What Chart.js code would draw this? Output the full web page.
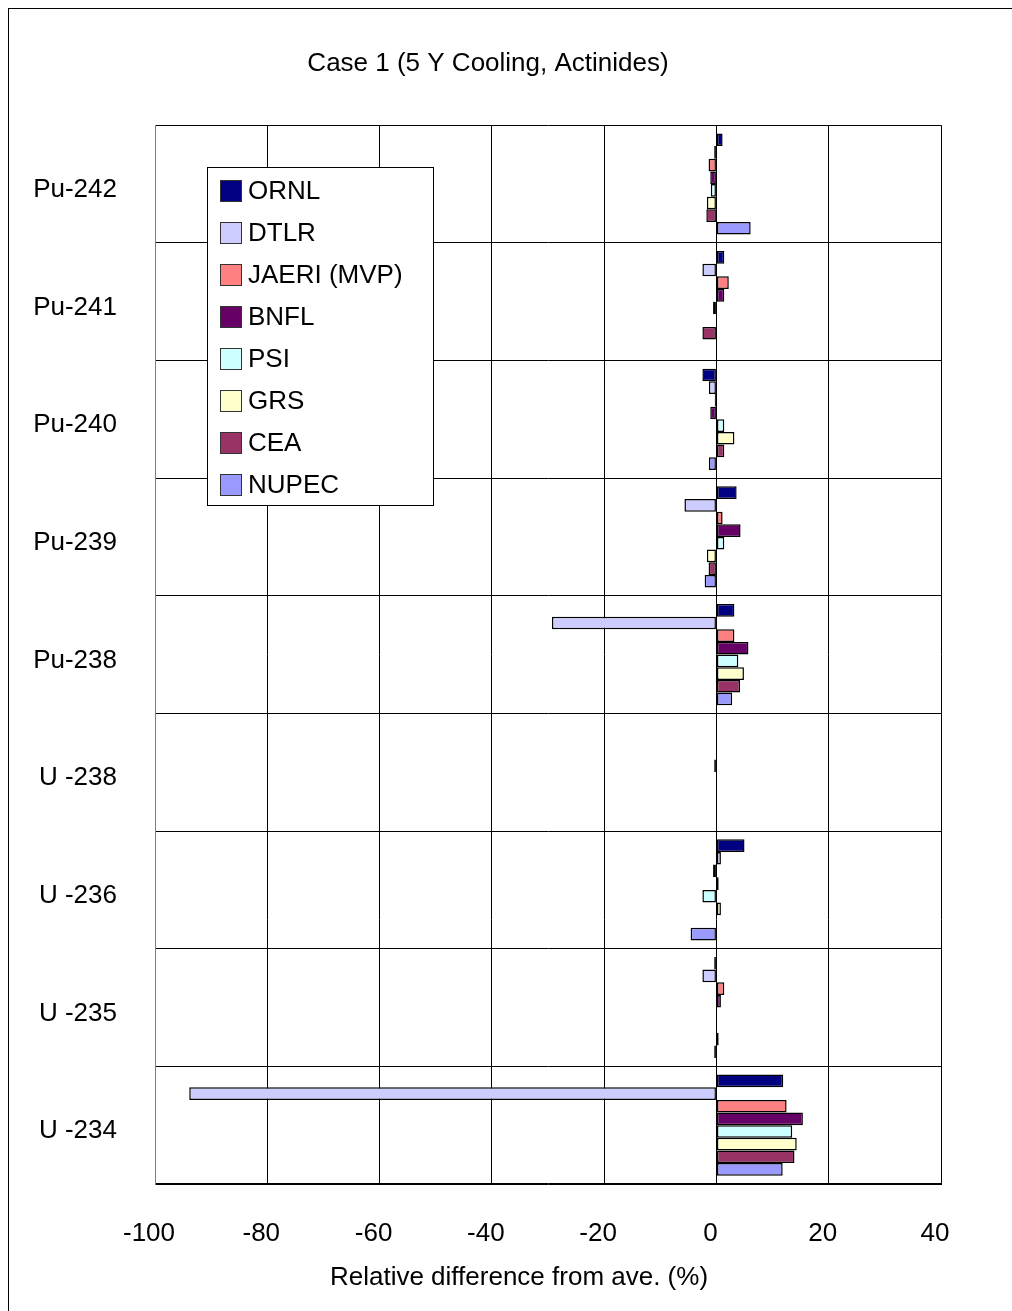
<!DOCTYPE html>
<html>
<head>
<meta charset="utf-8">
<title>Case 1 (5 Y Cooling, Actinides)</title>
<script src="https://cdn.jsdelivr.net/npm/chart.js@4"></script>
<style>
  html, body { margin: 0; padding: 0; background: #fff; }
  canvas { display: block; }
</style>
</head>
<body>
<canvas id="barChart" width="1012" height="1311"></canvas>
<script>
const categories = ['Pu-242', 'Pu-241', 'Pu-240', 'Pu-239', 'Pu-238', 'U -238', 'U -236', 'U -235', 'U -234'];

const ornl  = [1.1, 1.4, -2.5, 3.6, 3.2, 0, 5.0, -0.4, 11.9];
const dtlr  = [-0.4, -2.5, -1.35, -5.7, -29.3, 0, 0.8, -2.5, -93.9];
const jaeri = [-1.4, 2.2, -0.3, 1.1, 3.2, 0, -0.6, 1.4, 12.5];
const bnfl  = [-1.1, 1.4, -1.1, 4.3, 5.7, -0.4, 0.4, 0.8, 15.4];
const psi   = [-1.0, -0.6, 1.4, 1.4, 3.9, 0, -2.5, 0, 13.5];
const grs   = [-1.7, 0, 3.2, -1.7, 4.9, 0, 0.8, 0, 14.3];
const cea   = [-1.8, -2.5, 1.4, -1.4, 4.2, 0, 0, 0.4, 13.9];
const nupec = [6.1, 0, -1.35, -2.1, 2.8, 0, -4.6, -0.4, 11.8];

const seriesNames = ['ORNL', 'DTLR', 'JAERI (MVP)', 'BNFL', 'PSI', 'GRS', 'CEA', 'NUPEC'];
const seriesValues = [ornl, dtlr, jaeri, bnfl, psi, grs, cea, nupec];
const seriesColors = ['#000080', '#ccccff', '#ff8080', '#660066', '#ccffff', '#ffffcc', '#993366', '#9999ff'];

const xTitle = 'Relative difference from ave. (%)';

const FONT = "'Liberation Sans', Arial, sans-serif";

// frame around the whole picture
const framePlugin = {
  id: 'frame',
  beforeDraw(chart) {
    const ctx = chart.ctx;
    ctx.save();
    ctx.fillStyle = '#fff';
    ctx.fillRect(0, 0, chart.width, chart.height);
    ctx.strokeStyle = '#000';
    ctx.lineWidth = 1;
    ctx.strokeRect(8.5, 8.5, 1200, 1400);
    ctx.restore();
  }
};

// legend box inside the plot area + axis title (excel puts it off-centre)
const boxLegend = {
  id: 'boxLegend',
  afterDraw(chart) {
    const ctx = chart.ctx;
    ctx.save();
    ctx.fillStyle = '#fff';
    ctx.fillRect(207, 167, 226, 338);
    ctx.strokeStyle = '#000';
    ctx.lineWidth = 1;
    ctx.strokeRect(207.5, 167.5, 226, 338);
    ctx.font = '26px ' + FONT;
    ctx.textBaseline = 'middle';
    ctx.textAlign = 'left';
    seriesNames.forEach((name, i) => {
      const y = 191 + i * 42;
      ctx.fillStyle = seriesColors[i];
      ctx.fillRect(221, y - 10, 20, 20);
      ctx.strokeStyle = '#333';
      ctx.strokeRect(220.5, y - 10.5, 21, 21);
      ctx.fillStyle = '#000';
      ctx.fillText(name, 248, y + 1);
    });

    ctx.textAlign = 'center';
    ctx.fillStyle = '#000';
    ctx.fillText(xTitle, 519, 1278);
    ctx.restore();
  }
};

new Chart(document.getElementById('barChart').getContext('2d'), {
  type: 'bar',
  data: {
    labels: categories,
    datasets: seriesNames.map((name, i) => ({
      label: name,
      data: seriesValues[i],
      backgroundColor: seriesColors[i],
      borderColor: '#000',
      borderWidth: 1.5,
      borderSkipped: false,
      categoryPercentage: 0.86,
      barPercentage: 1.0
    }))
  },
  options: {
    indexAxis: 'y',
    responsive: false,
    animation: false,
    layout: { padding: { top: 10, right: 71, bottom: 0, left: 35 } },
    plugins: {
      legend: { display: false },
      tooltip: { enabled: false },
      title: {
        display: true,
        text: 'Case 1 (5 Y Cooling, Actinides)',
        color: '#000',
        font: { family: FONT, size: 26, weight: 'normal' },
        padding: { top: 38, bottom: 46 }
      }
    },
    scales: {
      x: {
        min: -100,
        max: 40,
        ticks: {
          stepSize: 20,
          color: '#000',
          padding: 34,
          labelOffset: -6,
          font: { family: FONT, size: 26 }
        },
        grid: { color: '#000', lineWidth: 1, drawTicks: false },
        border: { color: '#000' },
        afterFit(scale) { scale.height = 127; }
      },
      y: {
        ticks: {
          color: '#000',
          padding: 38,
          labelOffset: 6,
          font: { family: FONT, size: 26 }
        },
        grid: { color: '#000', lineWidth: 1, drawTicks: false, offset: true },
        border: { color: '#808080' },
        afterFit(scale) { scale.width = 120; }
      }
    }
  },
  plugins: [framePlugin, boxLegend]
});
</script>
</body>
</html>
